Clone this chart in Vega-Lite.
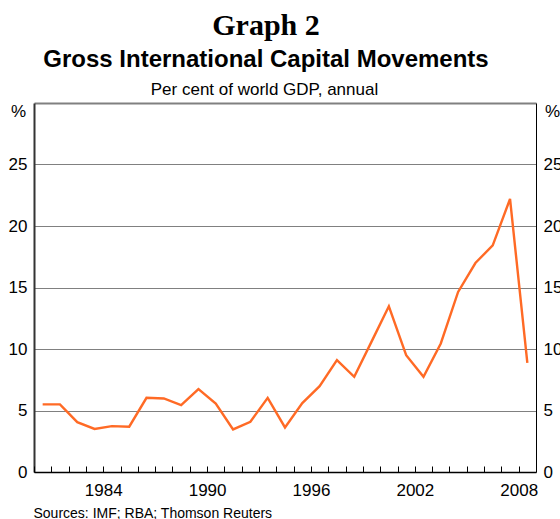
{
  "$schema": "https://vega.github.io/schema/vega-lite/v6.json",
  "autosize": "none",
  "width": 502,
  "height": 369,
  "padding": {"left": 34, "top": 103, "right": 24, "bottom": 47},
  "background": "white",
  "config": {"view": {"stroke": null}, "font": "Liberation Sans"},
  "title": {
    "text": "Graph 2",
    "subtitle": "Gross International Capital Movements",
    "font": "Liberation Serif",
    "fontSize": 30,
    "fontWeight": "bold",
    "color": "black",
    "subtitleFont": "Liberation Sans",
    "subtitleFontSize": 24,
    "subtitleFontWeight": "bold",
    "subtitleColor": "black",
    "subtitlePadding": 7,
    "anchor": "middle",
    "dx": -19,
    "offset": 8
  },
  "data": {
    "values": [
      {"year": 1980, "pct": 5.5},
      {"year": 1981, "pct": 5.5},
      {"year": 1982, "pct": 4.05},
      {"year": 1983, "pct": 3.5},
      {"year": 1984, "pct": 3.73},
      {"year": 1985, "pct": 3.68},
      {"year": 1986, "pct": 6.03},
      {"year": 1987, "pct": 5.98},
      {"year": 1988, "pct": 5.44},
      {"year": 1989, "pct": 6.74},
      {"year": 1990, "pct": 5.57},
      {"year": 1991, "pct": 3.46},
      {"year": 1992, "pct": 4.08},
      {"year": 1993, "pct": 6.03},
      {"year": 1994, "pct": 3.62},
      {"year": 1995, "pct": 5.6},
      {"year": 1996, "pct": 6.98},
      {"year": 1997, "pct": 9.09},
      {"year": 1998, "pct": 7.74},
      {"year": 1999, "pct": 10.6},
      {"year": 2000, "pct": 13.47},
      {"year": 2001, "pct": 9.5},
      {"year": 2002, "pct": 7.74},
      {"year": 2003, "pct": 10.45},
      {"year": 2004, "pct": 14.64},
      {"year": 2005, "pct": 16.99},
      {"year": 2006, "pct": 18.43},
      {"year": 2007, "pct": 22.2},
      {"year": 2008, "pct": 8.87}
    ]
  },
  "layer": [
    {
      "mark": {"type": "line", "color": "#ff6a25", "strokeWidth": 2.4},
      "encoding": {
        "x": {
          "field": "year",
          "type": "quantitative",
          "scale": {"domain": [1979.5, 2008.5], "nice": false, "zero": false},
          "axis": {
            "orient": "bottom",
            "values": [1980,1981,1982,1983,1984,1985,1986,1987,1988,1989,1990,1991,1992,1993,1994,1995,1996,1997,1998,1999,2000,2001,2002,2003,2004,2005,2006,2007,2008],
            "format": "d",
            "labelExpr": "(datum.value - 1984) % 6 == 0 ? datum.label : ''",
            "tickOffset": -8.655,
            "tickSize": -6,
            "tickColor": "black",
            "tickWidth": 1,
            "labelPadding": 16,
            "labelFontSize": 17,
            "labelColor": "black",
            "labelFlush": false,
            "labelOverlap": false,
            "domainColor": "black",
            "domainWidth": 1.5,
            "grid": false,
            "zindex": 1,
            "title": "Sources: IMF; RBA; Thomson Reuters",
            "titleX": -1,
            "titleY": 45,
            "titleAlign": "left",
            "titleBaseline": "alphabetic",
            "titleFontSize": 14,
            "titleFontWeight": "normal",
            "titleColor": "black"
          }
        },
        "y": {
          "field": "pct",
          "type": "quantitative",
          "scale": {"domain": [0, 30], "nice": false},
          "axis": {
            "orient": "left",
            "values": [0, 5, 10, 15, 20, 25],
            "ticks": false,
            "labelPadding": 7,
            "labelFontSize": 17,
            "labelColor": "black",
            "domainColor": "#333333",
            "domainWidth": 2,
            "grid": true,
            "gridColor": "#808080",
            "gridWidth": 1,
            "title": "%",
            "titleAngle": 0,
            "titleX": -16,
            "titleY": 8,
            "titleAlign": "center",
            "titleBaseline": "middle",
            "titleFontSize": 17,
            "titleFontWeight": "normal",
            "titleColor": "black"
          }
        }
      }
    },
    {
      "mark": {"type": "line", "opacity": 0},
      "encoding": {
        "x": {
          "field": "year",
          "type": "quantitative",
          "axis": {
            "orient": "top",
            "labels": false,
            "ticks": false,
            "domainColor": "#808080",
            "domainWidth": 2,
            "grid": false,
            "title": "Per cent of world GDP, annual",
            "titleX": 230,
            "titleY": -9,
            "titleAlign": "center",
            "titleBaseline": "alphabetic",
            "titleFontSize": 17,
            "titleFontWeight": "normal",
            "titleColor": "black"
          }
        },
        "y": {
          "field": "pct",
          "type": "quantitative",
          "axis": {
            "orient": "right",
            "values": [0, 5, 10, 15, 20, 25],
            "ticks": false,
            "labelPadding": 7,
            "labelFontSize": 17,
            "labelColor": "black",
            "domainColor": "black",
            "domainWidth": 1,
            "grid": false,
            "title": "%",
            "titleAngle": 0,
            "titleX": 16,
            "titleY": 8,
            "titleAlign": "center",
            "titleBaseline": "middle",
            "titleFontSize": 17,
            "titleFontWeight": "normal",
            "titleColor": "black"
          }
        }
      }
    }
  ],
  "resolve": {"axis": {"x": "independent", "y": "independent"}}
}
